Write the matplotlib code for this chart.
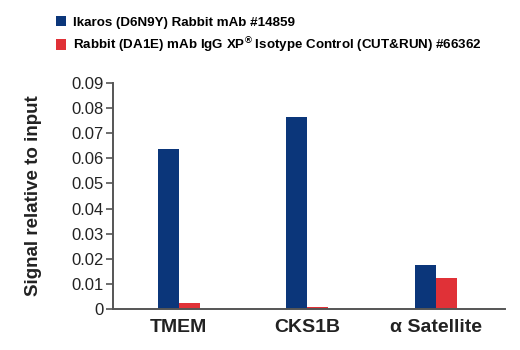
import numpy as np
import matplotlib
matplotlib.use("Agg")
import matplotlib.pyplot as plt

plt.rcParams["font.family"] = ["Liberation Sans", "DejaVu Sans"]
plt.rcParams["mathtext.fontset"] = "custom"
plt.rcParams["mathtext.rm"] = "Liberation Sans"
plt.rcParams["mathtext.bf"] = "Liberation Sans:bold"

categories = ["TMEM", "CKS1B", "α Satellite"]
ikaros = [0.0637, 0.0766, 0.0176]
igg = [0.0024, 0.0008, 0.0124]
series_labels = ["Ikaros (D6N9Y) Rabbit mAb #14859",
                 r"Rabbit (DA1E) mAb IgG XP$^{\mathbf{®}}$ Isotype Control (CUT&RUN) #66362"]
yticks = [0, 0.01, 0.02, 0.03, 0.04, 0.05, 0.06, 0.07, 0.08, 0.09]

blue = "#0b367a"
red = "#e03137"
grey = "#555555"

fig = plt.figure(figsize=(5.2, 3.5), dpi=100)
ax = fig.add_axes([0.2173, 0.117, 0.754, 0.646])

x = np.arange(len(categories))
w = 0.163
b1 = ax.bar(x - w / 2, ikaros, w, color=blue, label=series_labels[0])
b2 = ax.bar(x + w / 2, igg, w, color=red, label=series_labels[1])

ax.set_xlim(-0.51, 2.54)
ax.set_ylim(0, 0.09)
ax.set_yticks(yticks)
ax.set_yticklabels(["0"] + ["%.2f" % v for v in yticks[1:]], fontsize=12, color="#222222")
ax.set_xticks(x)
ax.set_xticklabels(categories, fontsize=14, fontweight="bold", color="#222222")
ax.tick_params(axis="x", length=0, pad=7)
ax.tick_params(axis="y", length=5, color=grey, width=1.2, pad=2)
for s in ["top", "right"]:
    ax.spines[s].set_visible(False)
for s in ["left", "bottom"]:
    ax.spines[s].set_color(grey)
    ax.spines[s].set_linewidth(1.4)

ax.set_ylabel("Signal relative to input", fontsize=13.5, fontweight="bold", color="#222222", labelpad=21)

fig.legend(handles=[b1, b2], loc="upper left", bbox_to_anchor=(0.097, 0.97),
           frameon=False, handlelength=0.8, handleheight=0.8,
           handletextpad=0.5, labelspacing=0.5, borderaxespad=0,
           prop={"weight": "bold", "size": 9.6})

fig.savefig("out.png", dpi=100)
